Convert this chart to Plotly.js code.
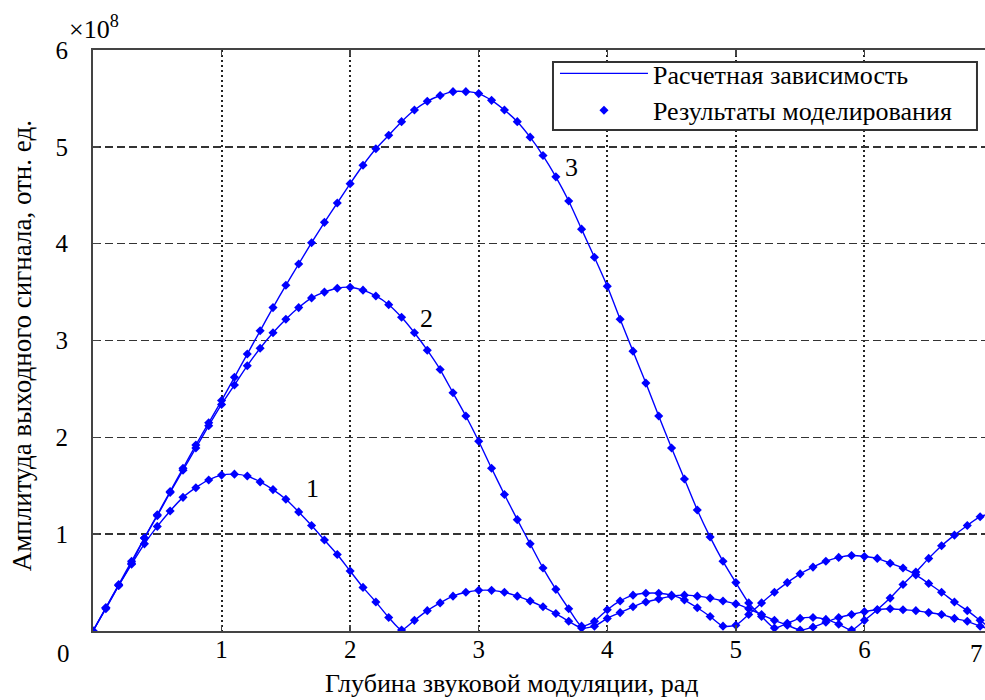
<!DOCTYPE html>
<html>
<head>
<meta charset="utf-8">
<script src="https://cdn.plot.ly/plotly-3.0.1.min.js"></script>
<style>
html,body{margin:0;padding:0;overflow:hidden;background:#fff;}
#chart{width:1010px;height:700px;}
</style>
</head>
<body>
<div id="chart"></div>
<script>
// Depth of modulation, rad (sampling grid of the modelled points)
const depth = [0.0,0.1,0.2,0.3,0.4,0.5,0.6,0.7,0.8,0.9,1.0,1.1,1.2,1.3,1.4,1.5,1.6,1.7,1.8,1.9,
  2.0,2.1,2.2,2.3,2.4,2.5,2.6,2.7,2.8,2.9,3.0,3.1,3.2,3.3,3.4,3.5,3.6,3.7,3.8,3.9,
  4.0,4.1,4.2,4.3,4.4,4.5,4.6,4.7,4.8,4.9,5.0,5.1,5.2,5.3,5.4,5.5,5.6,5.7,5.8,5.9,
  6.0,6.1,6.2,6.3,6.4,6.5,6.6,6.7,6.8,6.9,7.0];

// Output amplitude, x1e8 rel. units
const curve1 = [0,0.24,0.47,0.69,0.90,1.08,1.24,1.38,1.48,1.56,1.61,1.62,1.60,1.54,1.46,1.36,1.23,1.09,0.94,0.79,
  0.62,0.45,0.30,0.14,0.01,0.11,0.21,0.29,0.36,0.40,0.42,0.42,0.40,0.36,0.31,0.25,0.18,0.10,0.03,0.05,
  0.13,0.19,0.25,0.30,0.33,0.36,0.37,0.36,0.34,0.31,0.28,0.23,0.17,0.11,0.06,0.01,0.04,0.09,0.14,0.17,
  0.20,0.22,0.23,0.22,0.21,0.19,0.17,0.13,0.10,0.05,0.01];
const curve2 = [0,0.24,0.48,0.72,0.96,1.19,1.43,1.66,1.89,2.12,2.34,2.54,2.74,2.92,3.08,3.22,3.34,3.44,3.50,3.54,
  3.55,3.52,3.46,3.37,3.24,3.08,2.90,2.70,2.46,2.22,1.96,1.68,1.41,1.15,0.90,0.65,0.43,0.23,0.05,0.10,
  0.22,0.31,0.37,0.39,0.39,0.37,0.32,0.24,0.15,0.05,0.06,0.17,0.29,0.40,0.50,0.59,0.66,0.72,0.76,0.78,
  0.77,0.75,0.70,0.65,0.58,0.49,0.40,0.30,0.21,0.11,0.01];
const curve3 = [0,0.23,0.47,0.70,0.96,1.20,1.44,1.68,1.92,2.15,2.38,2.62,2.86,3.10,3.34,3.57,3.79,4.01,4.22,4.42,
  4.62,4.81,4.98,5.12,5.26,5.38,5.47,5.53,5.57,5.57,5.55,5.48,5.38,5.26,5.10,4.91,4.69,4.44,4.15,3.86,
  3.56,3.22,2.89,2.56,2.22,1.89,1.57,1.25,0.97,0.72,0.50,0.29,0.15,0.03,0.08,0.13,0.14,0.12,0.07,0.01,
  0.11,0.22,0.34,0.48,0.61,0.75,0.88,0.99,1.09,1.18,1.22];

const curves = [curve1, curve2, curve3];
const curveLabels = ['1','2','3'];
const xTickVals = [1,2,3,4,5,6];
const yTickVals = [1,2,3,4,5,6];
const legendNames = ['Расчетная зависимость','Результаты моделирования'];

const FONT = 'Liberation Serif';
const BLUE = '#0000ff';
const FS = 26;

const traces = [];
curves.forEach((c, i) => {
  traces.push({
    x: depth, y: c, type: 'scatter', mode: 'lines',
    line: {color: BLUE, width: 1.4, shape: 'spline', smoothing: 0.6},
    name: legendNames[0], showlegend: i === 0,
    hoverinfo: 'skip'
  });
});
curves.forEach((c, i) => {
  traces.push({
    x: depth, y: c, type: 'scatter', mode: 'markers',
    marker: {color: BLUE, symbol: 'diamond', size: 7},
    name: legendNames[1], showlegend: i === 0
  });
});

const txt = (size) => ({family: FONT, size: size, color: '#000'});

const layout = {
  width: 1010, height: 700,
  margin: {l: 93, r: 17, t: 50, b: 69},
  paper_bgcolor: '#fff', plot_bgcolor: '#fff',
  font: txt(FS),
  showlegend: true,
  legend: {
    x: 0.5133, y: 1.0, xanchor: 'left', yanchor: 'top',
    bgcolor: 'rgba(0,0,0,0)', borderwidth: 0,
    font: txt(FS), itemwidth: 88, tracegroupgap: 0
  },
  shapes: [
    {type: 'rect', xref: 'paper', yref: 'paper', x0: 0.5111, x1: 0.9822, y0: 0.8623, y1: 0.9793,
     fillcolor: '#fff', line: {color: '#333', width: 2}, layer: 'above'}
  ],
  xaxis: {
    range: [0, 7], tickvals: xTickVals, ticktext: xTickVals.map(String),
    showgrid: true, gridcolor: '#222', griddash: '2px,3px', gridwidth: 2,
    zeroline: false, showline: true, linecolor: '#444', linewidth: 2,
    mirror: 'ticks', ticks: 'inside', ticklen: 6, tickcolor: '#444', tickwidth: 1.5,
    tickfont: txt(25), ticklabelstandoff: -5
  },
  yaxis: {
    range: [0, 6], tickvals: yTickVals, ticktext: yTickVals.map(String),
    showgrid: true, gridcolor: '#333', griddash: '8px,4px', gridwidth: 1.5,
    zeroline: false, showline: true, linecolor: '#444', linewidth: 2,
    mirror: 'ticks', ticks: 'inside', ticklen: 6, tickcolor: '#444', tickwidth: 1.5,
    tickfont: txt(25), ticklabelstandoff: 18
  },
  annotations: [
    {text: '×10<sup>8</sup>', xref: 'paper', yref: 'paper', x: -0.029, y: 1.038,
     xanchor: 'left', yanchor: 'middle', showarrow: false, font: txt(FS)},
    {text: '0', xref: 'paper', yref: 'paper', x: -0.033, y: -0.012,
     xanchor: 'center', yanchor: 'top', showarrow: false, font: txt(25)},
    {text: '7', xref: 'paper', yref: 'paper', x: 0.982, y: -0.012,
     xanchor: 'center', yanchor: 'top', showarrow: false, font: txt(25)},
    {text: 'Глубина звуковой модуляции, рад', xref: 'paper', yref: 'paper',
     x: (512 - 93) / 900, y: -0.091, xanchor: 'center', yanchor: 'middle', showarrow: false,
     font: txt(FS)},
    {text: 'Амплитуда выходного сигнала, отн. ед.', xref: 'paper', yref: 'paper',
     x: (22 - 93) / 900, y: 0.49, xanchor: 'center', yanchor: 'middle', textangle: -90,
     showarrow: false, font: txt(27)},
    {text: curveLabels[0], x: 1.71, y: 1.47, showarrow: false, font: txt(FS)},
    {text: curveLabels[1], x: 2.59, y: 3.23, showarrow: false, font: txt(FS)},
    {text: curveLabels[2], x: 3.72, y: 4.79, showarrow: false, font: txt(FS)}
  ]
};

Plotly.newPlot('chart', traces, layout, {displayModeBar: false, staticPlot: true});
</script>
</body>
</html>
